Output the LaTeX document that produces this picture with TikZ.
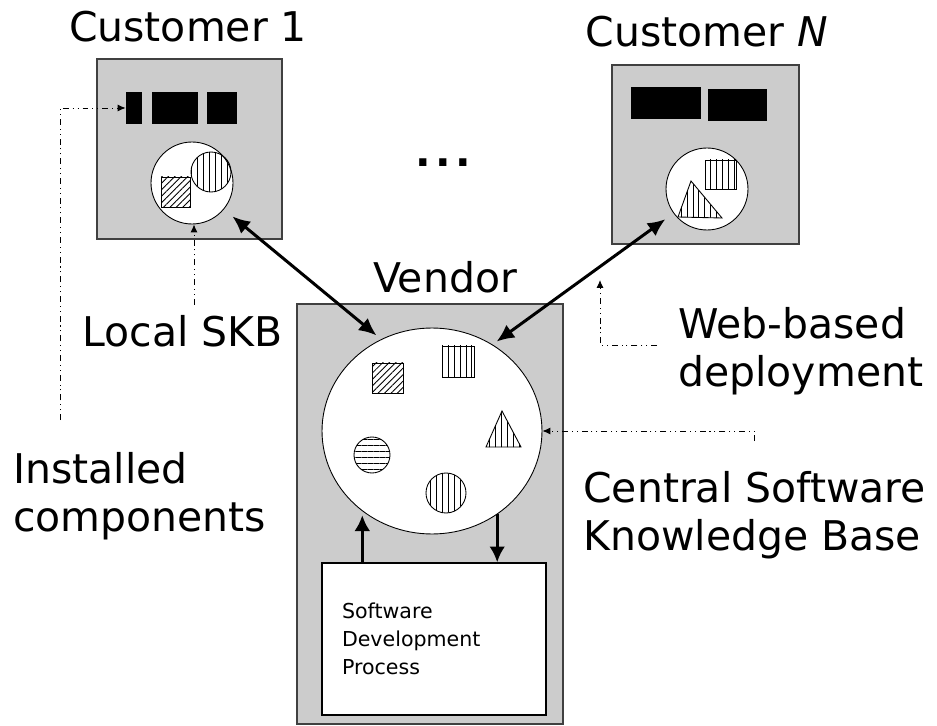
\documentclass[tikz,border=0pt]{standalone}
\usepackage{fontspec}
\setmainfont{DejaVu Sans}
\usetikzlibrary{arrows.meta,patterns.meta,shapes.geometric}

\definecolor{boxgray}{RGB}{204,204,204}

\tikzset{
  sitebox/.style={draw=black!75, line width=0.8pt, fill=boxgray, inner sep=0pt},
  comp/.style={fill=black, inner sep=0pt, minimum height=0.64cm},
  skb/.style={circle, draw, line width=0.5pt, fill=white, inner sep=0pt, minimum size=1.64cm},
  bigtext/.style={font=\fontsize{23.3}{27.5}\selectfont, inner sep=0pt},
  link/.style={line width=1.7pt, {Latex[length=10pt,width=9pt]}-{Latex[length=10pt,width=9pt]}},
  feed/.style={line width=1.7pt, -{Latex[length=9pt,width=9pt]}},
  note/.style={line width=0.55pt,
    dash pattern=on 3.4pt off 2.2pt on 0.6pt off 2.2pt on 0.6pt off 2.2pt,
    -{Latex[length=4.5pt,width=4pt]}},
  diag/.style={draw, line width=0.5pt, pattern={Lines[angle=45,distance=2.6pt,line width=0.5pt]}},
  vert/.style={draw, line width=0.5pt, pattern={Lines[angle=90,distance=3.4pt,line width=0.5pt]}},
  horz/.style={draw, line width=0.5pt, pattern={Lines[angle=0,distance=3.4pt,line width=0.5pt]}},
}

\begin{document}
\begin{tikzpicture}[x=0.02cm, y=-0.02cm]
    \useasboundingbox (0,0) rectangle (937,726);

    % Customer sites and the vendor
    \node[sitebox, minimum width=3.7cm, minimum height=3.6cm] (cust1) at (189.5,149) {};
    \node[sitebox, minimum width=3.74cm, minimum height=3.58cm] (custN) at (705.5,154.5) {};
    \node[sitebox, minimum width=5.32cm, minimum height=8.4cm] (vendor) at (430,514) {};

    \node[bigtext, anchor=base] (t1) at (188,42) {Customer 1};
    \node[bigtext, anchor=base] (tN) at (707,47) {Customer \textit{N}};
    \node[bigtext, anchor=base] (tv) at (445,293) {Vendor};
    \node[bigtext, anchor=base] (dots) at (443,167) {\bfseries.\kern2.5pt.\kern2.5pt.};

    % Installed components
    \node[comp, minimum width=0.32cm] (ic1) at (134,108) {};
    \node[comp, minimum width=0.92cm] (ic2) at (175,108) {};
    \node[comp, minimum width=0.6cm] (ic3) at (222,108) {};
    \node[comp, minimum width=1.4cm] (nc1) at (666,103) {};
    \node[comp, minimum width=1.18cm] (nc2) at (737.5,105) {};

    % Knowledge bases
    \node[skb] (skb1) at (192,183) {};
    \node[skb] (skbN) at (707,189) {};
    \node[ellipse, draw, line width=0.5pt, fill=white, inner sep=0pt,
          minimum width=4.4cm, minimum height=4.12cm] (csk) at (432,431) {};

    \node[draw, line width=0.8pt, fill=white, minimum height=3.04cm, text width=3.68cm,
          inner xsep=0.4cm, align=left, font=\fontsize{11.7}{16}\selectfont] (sdp) at (434,639)
          {Software\\Development\\Process};

    % Local SKB contents
    \draw[vert] (211,172) circle [radius=20];
    \draw[diag] (161,177) rectangle (190,207);
    \draw[vert] (705,160) rectangle (736,189);
    \draw[vert] (678,217) -- (691,181) -- (722,218) -- cycle;

    % Central SKB contents
    \draw[diag] (372,363) rectangle (403,393);
    \draw[vert] (442,346) rectangle (474,377);
    \draw[vert] (486,447) -- (502,411) -- (521,447) -- cycle;
    \draw[horz] (372,455) circle [radius=18];
    \draw[vert] (446,493) circle [radius=20];

    % Deployment links
    \draw[link, shorten <=0.22cm, shorten >=0.12cm] (skb1) -- (csk.119);
    \draw[link, shorten <=0.2cm, shorten >=0.1cm] (skbN) -- (csk.55);
    \draw[feed, shorten >=0.08cm] (csk.-131 |- sdp.north) -- (csk.-131);
    \draw[feed] (csk.-52) -- (csk.-52 |- sdp.north);

    % Callouts
    \node[bigtext, anchor=base west] (skbl) at (82,347) {Local SKB};
    \node[bigtext, anchor=north west, align=left] (inst) at (13,452) {Installed\\components};
    \node[bigtext, anchor=north west, align=left] (web) at (678,307) {Web-based\\deployment};
    \node[bigtext, anchor=north west, align=left] (cskl) at (583,471) {Central Software\\Knowledge Base};
    \coordinate (webtip) at (600,280);

    \draw[note] ([xshift=0.94cm,yshift=0.64cm]inst.north west) |- (ic1.west);
    \draw[note] ([xshift=0.04cm,yshift=0.22cm]skbl.north -| skb1.south) -- ([xshift=0.04cm]skb1.south);
    \draw[note] ([xshift=-0.42cm,yshift=0.12cm]web.west) -| (webtip);
    \draw[note] ([yshift=0.6cm]cskl.north) |- (csk.east);
\end{tikzpicture}
\end{document}
